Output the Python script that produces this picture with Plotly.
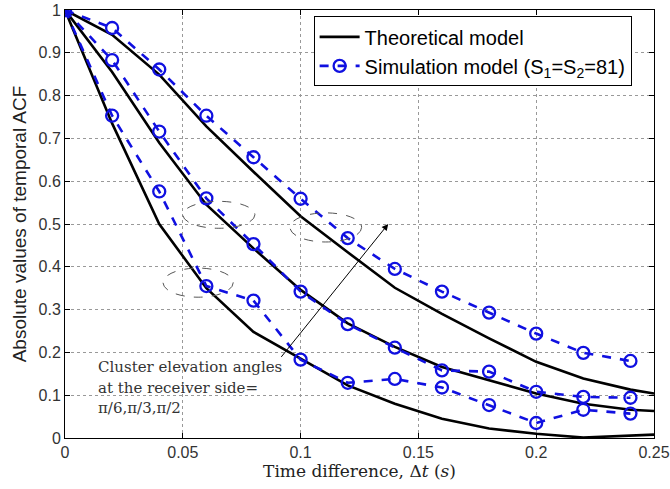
import plotly.graph_objects as go

# ---------------- data ----------------
t_theory = [0, 0.02, 0.04, 0.06, 0.08, 0.10, 0.12, 0.14, 0.16, 0.18, 0.20, 0.22, 0.24, 0.25]
theory_pi2 = [1.0, 0.942, 0.849, 0.728, 0.622, 0.518, 0.434, 0.351, 0.290, 0.233, 0.178, 0.139, 0.113, 0.104]
theory_pi3 = [1.0, 0.855, 0.690, 0.545, 0.443, 0.346, 0.268, 0.213, 0.166, 0.135, 0.104, 0.080, 0.066, 0.063]
theory_pi6 = [1.0, 0.735, 0.500, 0.350, 0.248, 0.186, 0.123, 0.080, 0.045, 0.022, 0.010, 0.001, 0.006, 0.008]

t_sim = [0, 0.02, 0.04, 0.06, 0.08, 0.10, 0.12, 0.14, 0.16, 0.18, 0.20, 0.22, 0.24]
sim_pi2 = [1.0, 0.958, 0.861, 0.753, 0.656, 0.559, 0.467, 0.395, 0.342, 0.293, 0.244, 0.199, 0.180]
sim_pi3 = [1.0, 0.883, 0.716, 0.560, 0.453, 0.342, 0.266, 0.211, 0.158, 0.155, 0.108, 0.096, 0.094]
sim_pi6 = [1.0, 0.753, 0.576, 0.355, 0.321, 0.183, 0.129, 0.138, 0.118, 0.077, 0.035, 0.066, 0.057]

x_ticks = [0, 0.05, 0.1, 0.15, 0.2, 0.25]
x_labels = ["0", "0.05", "0.1", "0.15", "0.2", "0.25"]
y_ticks = [0, 0.1, 0.2, 0.3, 0.4, 0.5, 0.6, 0.7, 0.8, 0.9, 1.0]
y_labels = ["0", "0.1", "0.2", "0.3", "0.4", "0.5", "0.6", "0.7", "0.8", "0.9", "1"]

note_lines = ["Cluster elevation angles", "at the receiver side=", "π/6,π/3,π/2"]

BLUE = "#1010e0"
fig = go.Figure()

for i, yv in enumerate([theory_pi2, theory_pi3, theory_pi6]):
    fig.add_trace(go.Scatter(
        x=t_theory, y=yv, mode="lines",
        line=dict(color="black", width=2.6),
        name="Theoretical model", showlegend=(i == 0)))

for i, yv in enumerate([sim_pi2, sim_pi3, sim_pi6]):
    fig.add_trace(go.Scatter(
        x=t_sim, y=yv, mode="lines+markers",
        line=dict(color=BLUE, width=2.6, dash="dash"),
        marker=dict(symbol="circle-open", size=12, color=BLUE, line=dict(width=2.3, color=BLUE)),
        name="Simulation model (S<sub>1</sub>=S<sub>2</sub>=81)", showlegend=(i == 0)))

ell = dict(type="circle", xref="x", yref="y", line=dict(color="#555", width=1, dash="dash"))
fig.add_shape(**ell, x0=0.0500, x1=0.0806, y0=0.490, y1=0.553)
fig.add_shape(**ell, x0=0.0416, x1=0.0714, y0=0.329, y1=0.397)
fig.add_shape(**ell, x0=0.0955, x1=0.1259, y0=0.458, y1=0.526)

fig.add_annotation(
    x=0.1372, y=0.50, ax=0.0913, ay=0.186, xref="x", yref="y", axref="x", ayref="y",
    showarrow=True, arrowhead=2, arrowsize=1.3, arrowwidth=1, arrowcolor="black", text="")

for line_text, yv in zip(note_lines, [0.166, 0.117, 0.0695]):
    fig.add_annotation(
        x=0.0131, y=yv, xref="x", yref="y", xanchor="left", yanchor="middle", align="left",
        showarrow=False, text=line_text,
        font=dict(family="DejaVu Serif", size=15, color="#333"))

axis_common = dict(
    showline=True, linecolor="black", linewidth=1, mirror="ticks",
    ticks="inside", ticklen=5, tickcolor="black",
    showgrid=True, gridcolor="#999", griddash="dot", gridwidth=1,
    zeroline=False, automargin=False,
    tickfont=dict(family="Liberation Sans, Arial", size=16, color="#333"),
)

fig.update_xaxes(range=[0, 0.25], tickvals=x_ticks, ticktext=x_labels,
                 title=dict(text="Time difference, Δ<i>t</i> (<i>s</i>)",
                            font=dict(family="DejaVu Serif", size=17, color="#222"), standoff=0),
                 **axis_common)
fig.update_yaxes(range=[0, 1], tickvals=y_ticks, ticktext=y_labels,
                 title=dict(text="Absolute values of temporal ACF",
                            font=dict(family="Liberation Sans, Arial", size=19, color="#222"), standoff=6),
                 **axis_common)

fig.update_layout(
    width=670, height=489,
    margin=dict(l=65, r=16, t=10, b=51),
    plot_bgcolor="white", paper_bgcolor="white",
    legend=dict(x=0.962, y=0.985, xanchor="right", yanchor="top",
                bgcolor="white", bordercolor="black", borderwidth=1,
                font=dict(family="Liberation Sans, Arial", size=20, color="black"),
                tracegroupgap=0, itemwidth=40),
)

fig.write_html("out.html", config={"displayModeBar": False},
               post_script="document.body.style.margin='0';document.body.style.overflow='hidden';")
